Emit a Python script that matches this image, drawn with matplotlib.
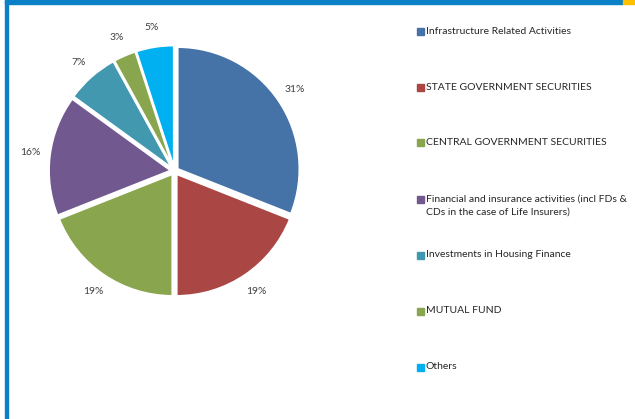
import matplotlib
matplotlib.use("Agg")
import matplotlib.pyplot as plt
from matplotlib.patches import Rectangle

categories = [
    "Infrastructure Related Activities",
    "STATE GOVERNMENT SECURITIES",
    "CENTRAL GOVERNMENT SECURITIES",
    "Financial and insurance activities (incl FDs &\nCDs in the case of Life Insurers)",
    "Investments in Housing Finance",
    "MUTUAL FUND",
    "Others",
]
values = [31, 19, 19, 16, 7, 3, 5]
colors = ["#4572A7", "#AA4643", "#89A54E", "#71588F", "#4198AF", "#89A54E", "#00B0F0"]

plt.rcParams['font.family'] = ['Lato', 'DejaVu Sans']
W, H = 635, 419
fig = plt.figure(figsize=(W / 100, H / 100), dpi=100)

# border decoration
fig.patches.append(Rectangle((5 / W, 0), 2.5 / W, 1, transform=fig.transFigure,
                             color="#0A80C6", zorder=0))
fig.patches.append(Rectangle((5 / W, 1 - 4 / H), 618 / W, 4 / H, transform=fig.transFigure,
                             color="#0A80C6", zorder=0))
fig.patches.append(Rectangle((623 / W, 1 - 4 / H), 12 / W, 4 / H, transform=fig.transFigure,
                             color="#FFC000", zorder=0))

cx, cy, R = 174.5, 419 - 171, 122
span = 1.25
ax = fig.add_axes([(cx - R * span) / W, (cy - R * span) / H, 2 * R * span / W, 2 * R * span / H])
wedges, texts, autotexts = ax.pie(
    values, colors=colors, startangle=90, counterclock=False,
    explode=[0.03] * len(values), autopct='%.0f%%', pctdistance=1.16,
    wedgeprops=dict(edgecolor="white", linewidth=1.5),
    textprops=dict(fontsize=7.5, color="#404040"))
ax.set_xlim(-span, span)
ax.set_ylim(-span, span)
ax.set_aspect('equal')
ax.axis('off')

legend_y = [32, 88, 143, 200, 255, 311, 367]
for lab, col, y in zip(categories, colors, legend_y):
    fig.patches.append(Rectangle((417 / W, 1 - (y + 3.5) / H), 7 / W, 7 / H,
                                 transform=fig.transFigure, color=col))
    fig.text(426 / W, 1 - (y - 5) / H, lab, fontsize=7.5, color="#262626",
             va='top', ha='left', linespacing=1.45)

fig.savefig("out.png", dpi=100)
